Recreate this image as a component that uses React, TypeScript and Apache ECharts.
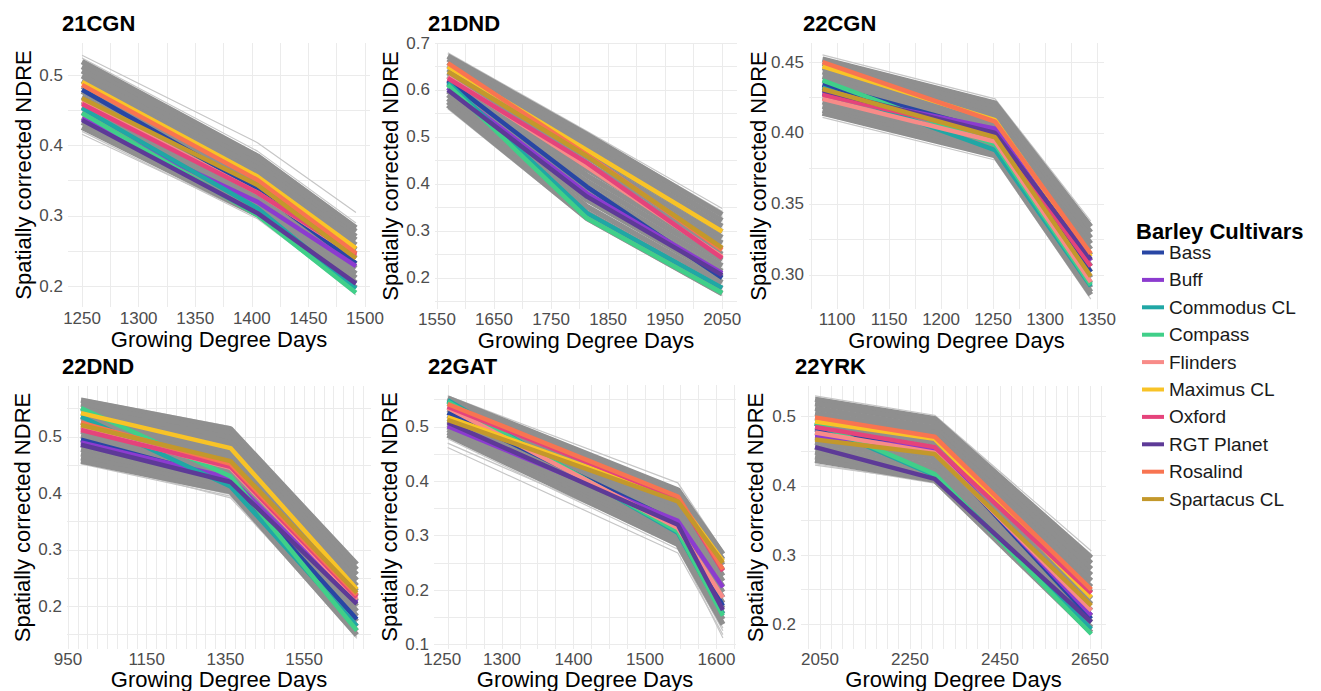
import React, { useEffect, useRef } from "react";
import * as echarts from "echarts";

const FONT = "'Liberation Sans', Arial, Helvetica, sans-serif";

const cultivars = ["Bass", "Buff", "Commodus CL", "Compass", "Flinders", "Maximus CL", "Oxford", "RGT Planet", "Rosalind", "Spartacus CL"];
const cultivarColors = ["#2846a4", "#8c3bcf", "#20a7a5", "#40cf89", "#f88b88", "#f8c327", "#e5437b", "#5d3a97", "#f87451", "#c3982b"];

const sites = ["21CGN", "21DND", "22CGN", "22DND", "22GAT", "22YRK"];

// Growing degree days of the three sampling dates per site
const gdd21CGN = [1250, 1405, 1492];
const gdd21DND = [1569, 1813, 2050];
const gdd22CGN = [1086, 1252, 1344];
const gdd22DND = [983, 1363, 1684];
const gdd22GAT = [1224, 1546, 1609];
const gdd22YRK = [2039, 2305, 2653];

// Cultivar NDRE (order = cultivars)
const ndre21CGN = [
  [0.479, 0.337, 0.233], [0.438, 0.320, 0.229], [0.453, 0.311, 0.197], [0.446, 0.301, 0.191], [0.463, 0.333, 0.243],
  [0.490, 0.356, 0.254], [0.459, 0.333, 0.245], [0.436, 0.304, 0.204], [0.486, 0.351, 0.247], [0.467, 0.344, 0.240],
];
const ndre21DND = [
  [0.620, 0.394, 0.200], [0.605, 0.380, 0.210], [0.616, 0.338, 0.179], [0.611, 0.327, 0.168], [0.628, 0.437, 0.245],
  [0.650, 0.472, 0.299], [0.625, 0.445, 0.242], [0.600, 0.373, 0.206], [0.657, 0.462, 0.260], [0.639, 0.459, 0.264],
];
const ndre22CGN = [
  [0.434, 0.401, 0.302], [0.428, 0.403, 0.310], [0.432, 0.388, 0.292], [0.437, 0.392, 0.293], [0.424, 0.394, 0.295],
  [0.447, 0.409, 0.313], [0.427, 0.399, 0.306], [0.430, 0.400, 0.311], [0.450, 0.408, 0.315], [0.431, 0.397, 0.299],
];
const ndre22DND = [
  [0.495, 0.424, 0.177], [0.490, 0.427, 0.207], [0.536, 0.412, 0.165], [0.551, 0.430, 0.157], [0.515, 0.445, 0.212],
  [0.542, 0.480, 0.230], [0.512, 0.447, 0.216], [0.486, 0.420, 0.204], [0.525, 0.452, 0.220], [0.521, 0.457, 0.224],
];
const ndre22GAT = [
  [0.526, 0.324, 0.171], [0.501, 0.327, 0.205], [0.549, 0.305, 0.156], [0.546, 0.308, 0.153], [0.535, 0.314, 0.186],
  [0.518, 0.366, 0.253], [0.537, 0.369, 0.235], [0.508, 0.320, 0.163], [0.542, 0.372, 0.238], [0.513, 0.363, 0.250],
];
const ndre22YRK = [
  [0.481, 0.452, 0.208], [0.472, 0.453, 0.213], [0.490, 0.415, 0.193], [0.492, 0.417, 0.186], [0.477, 0.448, 0.220],
  [0.493, 0.468, 0.239], [0.485, 0.456, 0.245], [0.456, 0.410, 0.203], [0.499, 0.471, 0.250], [0.467, 0.446, 0.227],
];

// Other breeding lines (grey)
const gray21CGN = [
  [0.519, 0.385, 0.283], [0.512, 0.380, 0.278], [0.506, 0.374, 0.271], [0.499, 0.368, 0.266], [0.492, 0.361, 0.259],
  [0.484, 0.355, 0.252], [0.477, 0.349, 0.246], [0.469, 0.342, 0.240], [0.462, 0.336, 0.232], [0.455, 0.329, 0.226],
  [0.447, 0.322, 0.218], [0.440, 0.315, 0.212], [0.433, 0.308, 0.205], [0.426, 0.302, 0.198],
];
const pale21CGN = [[0.528, 0.404, 0.305], [0.524, 0.392, 0.290], [0.420, 0.296, 0.192], [0.416, 0.299, 0.188], [0.515, 0.388, 0.287]];

const gray21DND = [
  [0.672, 0.505, 0.335], [0.666, 0.494, 0.322], [0.659, 0.482, 0.310], [0.652, 0.470, 0.298], [0.645, 0.457, 0.286],
  [0.637, 0.444, 0.274], [0.630, 0.431, 0.262], [0.622, 0.418, 0.250], [0.614, 0.405, 0.238], [0.606, 0.392, 0.226],
  [0.598, 0.379, 0.214], [0.590, 0.366, 0.202], [0.582, 0.352, 0.190], [0.575, 0.339, 0.178], [0.568, 0.327, 0.167],
];
const pale21DND = [[0.679, 0.512, 0.348], [0.668, 0.508, 0.342], [0.560, 0.322, 0.162], [0.676, 0.498, 0.330]];

const gray22CGN = [
  [0.452, 0.421, 0.334], [0.449, 0.418, 0.330], [0.446, 0.415, 0.326], [0.443, 0.412, 0.322], [0.440, 0.409, 0.318],
  [0.437, 0.406, 0.314], [0.434, 0.403, 0.310], [0.431, 0.400, 0.306], [0.428, 0.397, 0.302], [0.425, 0.394, 0.298],
  [0.422, 0.391, 0.294], [0.419, 0.388, 0.291], [0.416, 0.386, 0.288], [0.414, 0.384, 0.286],
];
const pale22CGN = [[0.455, 0.424, 0.338], [0.411, 0.381, 0.283], [0.413, 0.386, 0.287], [0.453, 0.420, 0.336]];

const gray22DND = [
  [0.565, 0.514, 0.274], [0.558, 0.506, 0.265], [0.550, 0.498, 0.256], [0.542, 0.490, 0.246], [0.534, 0.482, 0.236],
  [0.526, 0.474, 0.227], [0.518, 0.466, 0.218], [0.510, 0.458, 0.209], [0.502, 0.450, 0.200], [0.494, 0.442, 0.191],
  [0.486, 0.434, 0.182], [0.478, 0.426, 0.173], [0.470, 0.418, 0.164], [0.463, 0.410, 0.156], [0.457, 0.403, 0.149],
];
const pale22DND = [[0.568, 0.518, 0.278], [0.452, 0.395, 0.146], [0.460, 0.392, 0.152], [0.455, 0.398, 0.143]];

const gray22GAT = [
  [0.553, 0.384, 0.266], [0.548, 0.376, 0.256], [0.543, 0.368, 0.246], [0.537, 0.360, 0.236], [0.532, 0.352, 0.226],
  [0.527, 0.344, 0.216], [0.521, 0.336, 0.206], [0.516, 0.328, 0.196], [0.511, 0.320, 0.186], [0.505, 0.312, 0.176],
  [0.500, 0.304, 0.166], [0.495, 0.297, 0.156], [0.490, 0.290, 0.146], [0.485, 0.284, 0.137],
];
const pale22GAT = [[0.462, 0.268, 0.118], [0.478, 0.275, 0.125], [0.557, 0.397, 0.272], [0.484, 0.280, 0.112], [0.470, 0.286, 0.130]];

const gray22YRK = [
  [0.525, 0.497, 0.296], [0.519, 0.491, 0.288], [0.512, 0.484, 0.280], [0.505, 0.477, 0.271], [0.498, 0.470, 0.263],
  [0.491, 0.463, 0.254], [0.484, 0.456, 0.246], [0.477, 0.449, 0.237], [0.470, 0.442, 0.229], [0.463, 0.435, 0.220],
  [0.456, 0.428, 0.212], [0.449, 0.421, 0.203], [0.442, 0.414, 0.195], [0.437, 0.408, 0.188],
];
const pale22YRK = [[0.530, 0.502, 0.306], [0.432, 0.404, 0.186], [0.528, 0.498, 0.301], [0.430, 0.406, 0.190]];

const xTitle = "Growing Degree Days";
const yTitle = "Spatially corrected NDRE";
const legendTitle = "Barley Cultivars";

const panels = [
  { site: sites[0], gdd: gdd21CGN, ndre: ndre21CGN, gray: gray21CGN, pale: pale21CGN,
    box: { l: 68, t: 43, w: 302, h: 264 }, x: [1237.6, 1504.4], y: [0.1709, 0.5454],
    xGrid: 25, xMajor: 50, xBase: 0, yGrid: 0.05, yMajor: 0.1, yDec: 1, yGap: 34, xGap: 21, xMargin: 3, tl: 62, tt: 12 },
  { site: sites[1], gdd: gdd21DND, ndre: ndre21DND, gray: gray21DND, pale: pale21DND,
    box: { l: 435, t: 43, w: 302, h: 266 }, x: [1546.5, 2076], y: [0.134, 0.7],
    xGrid: 50, xMajor: 100, xBase: 1550, yGrid: 0.05, yMajor: 0.1, yDec: 1, yGap: 34, xGap: 20, xMargin: 2, tl: 428, tt: 12 },
  { site: sites[2], gdd: gdd22CGN, ndre: ndre22CGN, gray: gray22CGN, pale: pale22CGN,
    box: { l: 809, t: 43, w: 295, h: 266 }, x: [1073, 1356.7], y: [0.276, 0.4634],
    xGrid: 25, xMajor: 50, xBase: 0, yGrid: 0.025, yMajor: 0.05, yDec: 2, yGap: 40, xGap: 20, xMargin: 2, tl: 803, tt: 12 },
  { site: sites[3], gdd: gdd22DND, ndre: ndre22DND, gray: gray22DND, pale: pale22DND,
    box: { l: 67, t: 386, w: 304, h: 263 }, x: [947.5, 1720], y: [0.1243, 0.59],
    xGrid: 25, xMajor: 200, xBase: 950, yGrid: 0.05, yMajor: 0.1, yDec: 1, yGap: 34, xGap: 19, xMargin: 2, tl: 62, tt: 355 },
  { site: sites[4], gdd: gdd22GAT, ndre: ndre22GAT, gray: gray22GAT, pale: pale22GAT,
    box: { l: 434, t: 385, w: 302, h: 264 }, x: [1204.9, 1627.3], y: [0.0916, 0.5769],
    xGrid: 25, xMajor: 100, xBase: 0, yGrid: 0.05, yMajor: 0.1, yDec: 1, yGap: 34, xGap: 19, xMargin: 2, tl: 428, tt: 355, extra: 1250 },
  { site: sites[5], gdd: gdd22YRK, ndre: ndre22YRK, gray: gray22YRK, pale: pale22YRK,
    box: { l: 801, t: 386, w: 305, h: 263 }, x: [2007.8, 2685.6], y: [0.1643, 0.5443],
    xGrid: 25, xMajor: 200, xBase: 2050, yGrid: 0.05, yMajor: 0.1, yDec: 1, yGap: 35, xGap: 19, xMargin: 2, tl: 795, tt: 355 },
];

const isMult = (v: number, base: number, step: number) => {
  const k = (v - base) / step;
  return Math.abs(k - Math.round(k)) < 1e-6;
};

function buildOption() {
  const grid: any[] = [];
  const xAxis: any[] = [];
  const yAxis: any[] = [];
  const title: any[] = [];
  const series: any[] = [];
  const gridLine = { show: true, showMinLine: false, showMaxLine: false, lineStyle: { color: "#ebebeb", width: 1 } };
  const tickFont = 17;

  panels.forEach((p, i) => {
    grid.push({ left: p.box.l, top: p.box.t, width: p.box.w, height: p.box.h, containLabel: false, outerBoundsMode: "none" });
    title.push({
      text: p.site, left: p.tl, top: p.tt, padding: 0,
      textStyle: { fontFamily: FONT, fontSize: 22, fontWeight: "bold", color: "#000" },
    });
    xAxis.push({
      gridIndex: i, type: "value", min: p.x[0], max: p.x[1], minInterval: p.xGrid, maxInterval: p.xGrid,
      axisLine: { show: false }, axisTick: { show: false },
      splitLine: gridLine,
      axisLabel: {
        margin: p.xMargin, color: "#4d4d4d", fontSize: tickFont, fontFamily: FONT, hideOverlap: false,
        formatter: (v: number) => {
          if (isMult(v, p.xBase, p.xMajor)) return String(Math.round(v));
          if ((p as any).extra && Math.abs(v - (p as any).extra) < 1e-6) return "{s|" + (p as any).extra + "}";
          return "";
        },
        rich: { s: { fontSize: tickFont, color: "#4d4d4d", fontFamily: FONT, padding: [0, 48, 0, 0] } },
      },
      name: xTitle, nameLocation: "middle", nameGap: p.xGap, nameMoveOverlap: false,
      nameTextStyle: { fontFamily: FONT, fontSize: 22, color: "#000" },
    });
    yAxis.push({
      gridIndex: i, type: "value", min: p.y[0], max: p.y[1], minInterval: p.yGrid, maxInterval: p.yGrid,
      axisLine: { show: false }, axisTick: { show: false },
      splitLine: { ...gridLine, showMaxLine: i === 1 },
      axisLabel: {
        margin: 5, color: "#4d4d4d", fontSize: tickFont, fontFamily: FONT,
        formatter: (v: number) => (isMult(v, 0, p.yMajor) ? v.toFixed(p.yDec) : ""),
      },
      name: yTitle, nameLocation: "middle", nameGap: p.yGap, nameMoveOverlap: false,
      nameTextStyle: { fontFamily: FONT, fontSize: 22, color: "#000" },
    });

    const toPts = (vals: number[]) => p.gdd.map((g, j) => [g, vals[j]]);
    p.pale.forEach((vals) => {
      series.push({
        type: "line", xAxisIndex: i, yAxisIndex: i, data: toPts(vals), symbol: "none", silent: true, z: 1,
        lineStyle: { color: "#c6c6c6", width: 1.2 },
      });
    });
    p.gray.forEach((vals) => {
      series.push({
        type: "line", xAxisIndex: i, yAxisIndex: i, data: toPts(vals), symbol: "none", silent: true, z: 2,
        lineStyle: { color: "#8f8f8f", width: 5.5 },
      });
    });
    p.ndre.forEach((vals, c) => {
      series.push({
        name: cultivars[c], type: "line", xAxisIndex: i, yAxisIndex: i, data: toPts(vals), symbol: "none", z: 3,
        color: cultivarColors[c], itemStyle: { color: cultivarColors[c] },
        lineStyle: { color: cultivarColors[c], width: 4.5 },
      });
    });
  });

  title.push({
    text: legendTitle, left: 1136, top: 220, padding: 0,
    textStyle: { fontFamily: FONT, fontSize: 22, fontWeight: "bold", color: "#000" },
  });

  return {
    animation: false,
    backgroundColor: "#ffffff",
    title,
    grid,
    xAxis,
    yAxis,
    legend: {
      data: cultivars, orient: "vertical", left: 1142, top: 243, padding: 0,
      itemWidth: 22, itemHeight: 4, itemGap: 8.4, icon: "rect", selectedMode: false,
      textStyle: { fontFamily: FONT, fontSize: 19, color: "#1a1a1a" },
    },
    series,
  };
}

export default function App() {
  const ref = useRef<HTMLDivElement>(null);
  useEffect(() => {
    if (!ref.current) return;
    const chart = echarts.init(ref.current, undefined, { renderer: "svg" });
    chart.setOption(buildOption() as any);
    return () => chart.dispose();
  }, []);
  return (
    <div
      ref={ref}
      style={{ position: "fixed", left: 0, top: 0, width: "1321px", height: "691px", background: "#fff" }}
    />
  );
}
